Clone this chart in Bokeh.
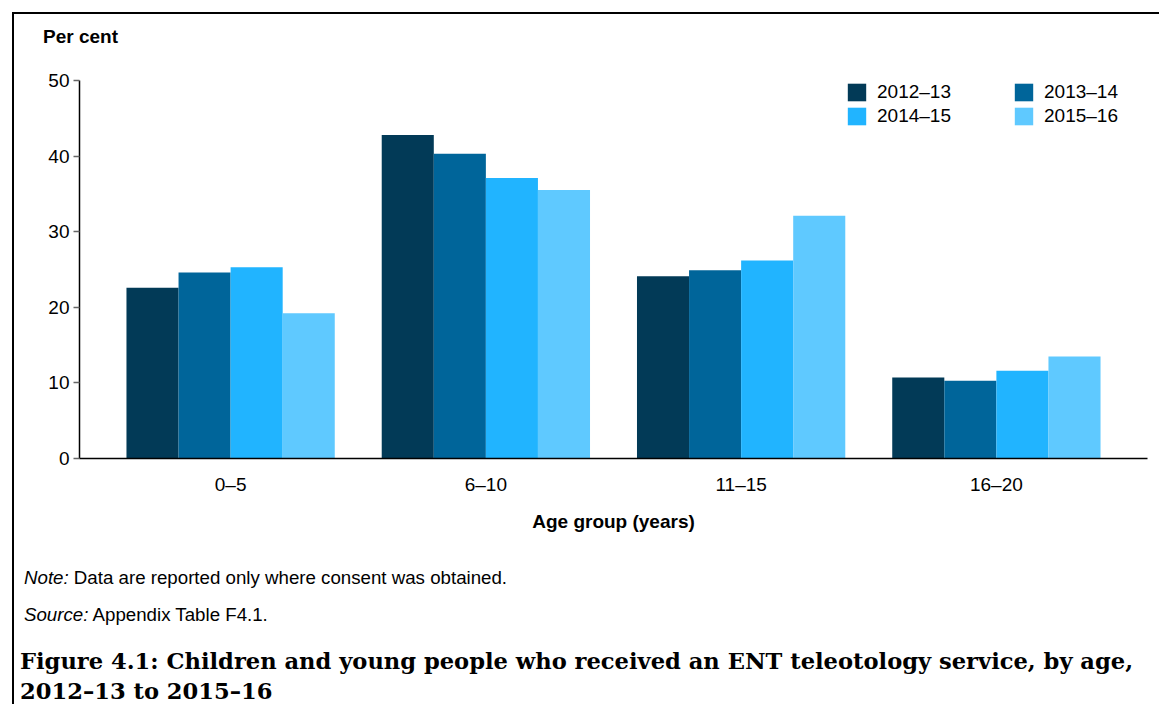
from bokeh.plotting import figure
from bokeh.models import (ColumnDataSource, FactorRange, Legend, LegendItem,
                          Range1d, FixedTicker, Div)
from bokeh.layouts import column
from bokeh.transform import dodge
from bokeh.embed import file_html
from bokeh.resources import INLINE

age_groups = ["0–5", "6–10", "11–15", "16–20"]
years = ["2012–13", "2013–14", "2014–15", "2015–16"]
v_2012_13 = [22.6, 42.8, 24.1, 10.7]
v_2013_14 = [24.6, 40.3, 24.9, 10.3]
v_2014_15 = [25.3, 37.1, 26.2, 11.6]
v_2015_16 = [19.2, 35.5, 32.1, 13.5]
colors = ["#023a57", "#00659a", "#21b4ff", "#5fc9ff"]
y_ticks = [0, 10, 20, 30, 40, 50]

y_title = "Per cent"
note_text = "Data are reported only where consent was obtained."
source_text = "Appendix Table F4.1."
caption_1 = "Figure 4.1: Children and young people who received an ENT teleotology service, by age,"
caption_2 = "2012–13 to 2015–16"

source = ColumnDataSource(data=dict(age=age_groups, y0=v_2012_13, y1=v_2013_14,
                                    y2=v_2014_15, y3=v_2015_16))

FONT = "Liberation Sans"
FS = "19px"
p = figure(width=1145, height=490, output_backend="svg", toolbar_location=None,
           x_range=FactorRange(*age_groups, range_padding=0.092, range_padding_units="absolute"),
           y_range=Range1d(0, 50),
           min_border_left=65, min_border_right=12, min_border_top=26, min_border_bottom=86,
           margin=0)
p.outline_line_color = None
p.grid.visible = False

bw = 0.204
offsets = [-1.5 * bw, -0.5 * bw, 0.5 * bw, 1.5 * bw]
renderers = []
for i, col in enumerate(["y0", "y1", "y2", "y3"]):
    r = p.vbar(x=dodge("age", offsets[i], range=p.x_range), top=col, width=bw,
               source=source, fill_color=colors[i], line_color=None)
    renderers.append(r)

# axes
p.yaxis.ticker = FixedTicker(ticks=y_ticks)
p.yaxis.axis_line_color = "#000000"
p.yaxis.axis_line_width = 1.5
p.yaxis.major_tick_line_color = "#666666"
p.yaxis.major_tick_line_width = 1.5
p.yaxis.major_tick_out = 6
p.yaxis.major_tick_in = 0
p.yaxis.minor_tick_line_color = None
p.yaxis.major_label_text_font = FONT
p.yaxis.major_label_text_font_size = FS
p.yaxis.major_label_text_color = "#000000"
p.yaxis.major_label_standoff = 4

p.xaxis.axis_line_color = "#000000"
p.xaxis.axis_line_width = 1.5
p.xaxis.major_tick_line_color = None
p.xaxis.major_tick_out = 0
p.xaxis.major_tick_in = 0
p.xaxis.major_label_text_font = FONT
p.xaxis.major_label_text_font_size = FS
p.xaxis.major_label_text_color = "#000000"
p.xaxis.major_label_standoff = 15
p.xaxis.axis_label = "Age group (years)"
p.xaxis.axis_label_text_font = FONT
p.xaxis.axis_label_text_font_size = FS
p.xaxis.axis_label_text_font_style = "bold"
p.xaxis.axis_label_text_color = "#000000"
p.xaxis.axis_label_standoff = 13

# legends (two columns)
def make_legend(idx, x):
    lg = Legend(items=[LegendItem(label=years[i], renderers=[renderers[i]]) for i in idx],
                location=(x, 331), orientation="vertical",
                glyph_width=23, glyph_height=22, label_height=22, spacing=2,
                padding=0, margin=0, label_standoff=9,
                label_text_font=FONT, label_text_font_size=FS,
                label_text_color="#000000",
                border_line_color=None, background_fill_alpha=0)
    p.add_layout(lg)

make_legend([0, 2], 766)
make_legend([1, 3], 933)

top_div = Div(text=f"""<div style="font-family:'Liberation Sans'; font-weight:bold; font-size:19px;
    line-height:22px; margin-top:12px; padding-left:29px; color:#000; white-space:nowrap;">{y_title}</div>""",
              width=1145, height=40, margin=0)

html = f"""
<div style="font-family:'Liberation Sans'; color:#000; padding-left:10px;">
  <div style="font-size:18.7px; line-height:20px; margin-top:24px; white-space:nowrap;"><i>Note:</i> {note_text}</div>
  <div style="font-size:18.7px; line-height:20px; margin-top:17px; white-space:nowrap;"><i>Source:</i> {source_text}</div>
  <div style="font-family:'DejaVu Serif'; font-weight:bold; font-size:22.6px; line-height:30px;
              margin-top:21px; margin-left:-4px; white-space:nowrap;">{caption_1}<br>{caption_2}</div>
</div>
"""
caption = Div(text=html, width=1145, height=165, margin=0)

layout = column(top_div, p, caption, margin=(12, 0, 0, 12), spacing=0,
                styles={"border-top": "2.5px solid #000000", "border-left": "2.5px solid #000000"})

open("out.html", "w").write(file_html(layout, INLINE))
